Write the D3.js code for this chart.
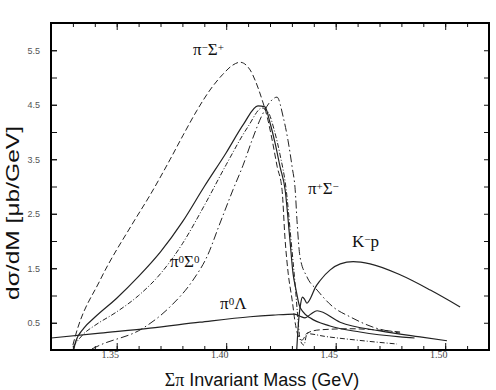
<!DOCTYPE html>
<html>
<head>
<meta charset="utf-8">
<script src="https://cdn.jsdelivr.net/npm/d3@7"></script>
<style>
  body { margin: 0; background: #fff; }
</style>
</head>
<body>
<svg id="chart" width="496" height="390"></svg>
<script>
// axis ticks
var xTicks = [1.35, 1.40, 1.45, 1.50];
var xTickLabels = ["1.35", "1.40", "1.45", "1.50"];
var yTicks = [0.5, 1.5, 2.5, 3.5, 4.5, 5.5];
var yTickLabels = ["0.5", "1.5", "2.5", "3.5", "4.5", "5.5"];

// [mass (GeV), dsigma/dM (mub/GeV)]
var dashedSigmaPi = [
  [1.3300, 0.09], [1.3310, 0.24], [1.3424, 1.28], [1.3574, 2.33], [1.3652, 2.84],
  [1.3743, 3.49], [1.3803, 3.94], [1.3867, 4.40], [1.3926, 4.77], [1.3985, 5.06],
  [1.4031, 5.23], [1.4063, 5.28], [1.4109, 5.14], [1.4132, 4.95], [1.4164, 4.59],
  [1.4187, 4.28], [1.4210, 3.85], [1.4233, 3.36], [1.4255, 2.94], [1.4269, 2.02],
  [1.4283, 1.41], [1.4301, 0.92], [1.4315, 0.50], [1.4333, 0.22], [1.4346, 0.18],
  [1.4369, 0.31], [1.4428, 0.37], [1.4565, 0.39], [1.4680, 0.37], [1.4794, 0.33]
];
var solidSigmaPi = [
  [1.3305, 0.02], [1.3310, 0.12], [1.3350, 0.40], [1.3400, 0.60], [1.3500, 0.95],
  [1.3600, 1.35], [1.3700, 1.80], [1.3800, 2.35], [1.3900, 3.00], [1.4000, 3.62],
  [1.4080, 4.15], [1.4145, 4.48], [1.4177, 4.46], [1.4200, 4.17], [1.4223, 3.80],
  [1.4246, 3.36], [1.4269, 2.94], [1.4291, 2.02], [1.4305, 1.41], [1.4319, 1.10],
  [1.4333, 0.83], [1.4351, 0.70], [1.4383, 0.59], [1.4474, 0.44], [1.4611, 0.33],
  [1.4794, 0.24], [1.4860, 0.22]
];
var dashDotSigmaPi = [
  [1.3301, 0.06], [1.3350, 0.30], [1.3400, 0.45], [1.3500, 0.70], [1.3600, 1.00],
  [1.3700, 1.40], [1.3800, 1.95], [1.3900, 2.65], [1.4000, 3.40], [1.4100, 4.10],
  [1.4164, 4.44], [1.4191, 4.37], [1.4219, 4.04], [1.4246, 3.58], [1.4274, 2.94],
  [1.4296, 2.02], [1.4315, 1.19], [1.4328, 0.55], [1.4338, 0.18], [1.4355, 0.09],
  [1.4369, 0.30], [1.4450, 0.25], [1.4600, 0.18], [1.4780, 0.11]
];
var dashDot2SigmaPi = [
  [1.3387, 0.02], [1.3424, 0.09], [1.3620, 0.40], [1.3743, 0.79], [1.3848, 1.28],
  [1.3912, 1.71], [1.3972, 2.33], [1.4031, 2.94], [1.4077, 3.39], [1.4118, 3.85],
  [1.4164, 4.31], [1.4200, 4.55], [1.4232, 4.64], [1.4260, 4.28], [1.4282, 3.85],
  [1.4301, 3.36], [1.4315, 2.94], [1.4324, 2.33], [1.4337, 1.71], [1.4369, 1.34],
  [1.4415, 1.10], [1.4488, 0.79], [1.4565, 0.61], [1.4670, 0.42], [1.4794, 0.31]
];
var pi0Lambda = [
  [1.3200, 0.22], [1.3424, 0.31], [1.3652, 0.40], [1.3880, 0.51], [1.4109, 0.61],
  [1.4214, 0.64], [1.4310, 0.66], [1.4337, 0.62], [1.4360, 0.59], [1.4387, 0.66],
  [1.4415, 0.72], [1.4520, 0.51], [1.4703, 0.35], [1.4885, 0.24], [1.5008, 0.17]
];
var kMinusP = [
  [1.4322, 0.00], [1.4330, 0.50], [1.4340, 0.85], [1.4348, 0.97], [1.4358, 0.93],
  [1.4368, 0.86], [1.4385, 0.95], [1.4406, 1.14], [1.4430, 1.28], [1.4475, 1.47],
  [1.4521, 1.58], [1.4580, 1.62], [1.4657, 1.58], [1.4794, 1.38], [1.4932, 1.10],
  [1.5068, 0.79]
];

var curveLabels = ["π⁻Σ⁺", "π⁺Σ⁻", "K⁻p", "π⁰Σ⁰", "π⁰Λ"];

var svg = d3.select("#chart");
var mLeft = 51, mRight = 489, mTop = 23, mBottom = 350;

var x = d3.scaleLinear().domain([1.32, 1.52]).range([mLeft, mRight]);
var y = d3.scaleLinear().domain([0, 6]).range([mBottom, mTop]);

svg.append("clipPath").attr("id", "clip")
  .append("rect")
  .attr("x", mLeft).attr("y", mTop)
  .attr("width", mRight - mLeft).attr("height", mBottom - mTop);

var minorX = d3.range(1.32, 1.5201, 0.01);
var minorY = d3.range(0.5, 6, 0.5);

// bottom ticks (inward)
var gb = svg.append("g").attr("transform", "translate(0," + mBottom + ")");
gb.call(d3.axisBottom(x).tickValues(minorX).tickSize(-4).tickFormat(""));
gb.append("g").call(d3.axisBottom(x).tickValues(xTicks).tickSize(-7)
  .tickPadding(1).tickFormat(function(d, i) { return xTickLabels[i]; }));
gb.selectAll(".domain").remove();
gb.selectAll("text")
  .attr("dx", -7)
  .style("font-family", "'Liberation Serif', serif")
  .style("font-size", "10px")
  .attr("fill", "#444");

// top ticks
var gt = svg.append("g").attr("transform", "translate(0," + mTop + ")");
gt.call(d3.axisTop(x).tickValues(minorX).tickSize(-4).tickFormat(""));
gt.append("g").call(d3.axisTop(x).tickValues(xTicks).tickSize(-7).tickFormat(""));
gt.selectAll(".domain").remove();

// left ticks with labels
var gl = svg.append("g").attr("transform", "translate(" + mLeft + ",0)");
gl.call(d3.axisLeft(y).tickValues(minorY).tickSize(-6).tickFormat(""));
gl.append("g").call(d3.axisLeft(y).tickValues(yTicks).tickSize(-6).tickPadding(11)
  .tickFormat(function(d, i) { return yTickLabels[i]; }));
gl.selectAll(".domain").remove();
gl.selectAll("text")
  .style("font-family", "'Liberation Sans', Arial, sans-serif")
  .style("font-size", "9px")
  .attr("fill", "#555");

// right ticks
var gr = svg.append("g").attr("transform", "translate(" + mRight + ",0)");
gr.call(d3.axisRight(y).tickValues(minorY).tickSize(-5).tickFormat(""));
gr.selectAll(".domain").remove();

svg.selectAll(".tick line").attr("stroke", "#111");

// curves
var line = d3.line()
  .x(function(d) { return x(d[0]); })
  .y(function(d) { return y(d[1]); })
  .curve(d3.curveMonotoneX);

var curves = [
  { data: dashedSigmaPi, dash: "6,3", w: 1 },
  { data: solidSigmaPi, dash: null, w: 1.2 },
  { data: dashDotSigmaPi, dash: "5,2,1,2", w: 1 },
  { data: dashDot2SigmaPi, dash: "8,3,1.5,3", w: 1 },
  { data: pi0Lambda, dash: null, w: 1.2 },
  { data: kMinusP, dash: null, w: 1.2 }
];

svg.append("g").attr("clip-path", "url(#clip)")
  .selectAll("path")
  .data(curves)
  .enter()
  .append("path")
  .attr("d", function(d) { return line(d.data); })
  .attr("fill", "none")
  .attr("stroke", "#222")
  .attr("stroke-width", function(d) { return d.w; })
  .attr("stroke-dasharray", function(d) { return d.dash; });

// frame
svg.append("rect")
  .attr("x", mLeft).attr("y", mTop)
  .attr("width", mRight - mLeft).attr("height", mBottom - mTop)
  .attr("fill", "none")
  .attr("stroke", "#000")
  .attr("stroke-width", 2);

// curve labels, placed in data units
var spots = [[1.3848, 5.41], [1.4373, 2.86], [1.4574, 1.89], [1.3743, 1.52], [1.3972, 0.75]];
var supMap = { "⁻": "−", "⁺": "+", "⁰": "0" };

curveLabels.forEach(function(lbl, i) {
  var t = svg.append("text")
    .attr("x", x(spots[i][0]))
    .attr("y", y(spots[i][1]))
    .style("font-family", "'Liberation Serif', 'Times New Roman', serif")
    .style("font-size", "17px")
    .attr("fill", "#111");
  Array.from(lbl).forEach(function(ch) {
    if (supMap[ch]) {
      t.append("tspan").text(supMap[ch])
        .attr("baseline-shift", "40%")
        .style("font-size", "11px");
    } else {
      t.append("tspan").text(ch);
    }
  });
});

// axis titles
var xt = svg.append("text")
  .attr("x", 262).attr("y", 386)
  .attr("text-anchor", "middle")
  .style("font-family", "'Liberation Sans', Arial, sans-serif")
  .style("font-size", "18px")
  .attr("fill", "#111");
xt.append("tspan").text("Σπ").style("font-family", "'Liberation Serif', serif");
xt.append("tspan").text(" Invariant Mass (GeV)");

svg.append("text")
  .attr("transform", "translate(19,213) rotate(-90)")
  .attr("text-anchor", "middle")
  .attr("textLength", 174)
  .attr("lengthAdjust", "spacingAndGlyphs")
  .style("font-family", "'Liberation Sans', Arial, sans-serif")
  .style("font-size", "19px")
  .attr("fill", "#111")
  .text("dσ/dM [μb/GeV]");
</script>
</body>
</html>
